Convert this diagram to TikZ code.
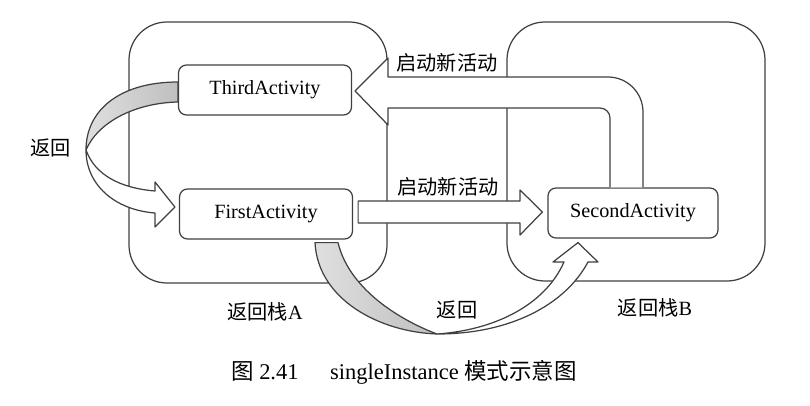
\documentclass[tikz,border=0pt]{standalone}
\usepackage{fontspec}
\setmainfont{Liberation Serif}
\newfontfamily\cjk{Noto Sans CJK SC}
\usetikzlibrary{calc}

\begin{document}
\begin{tikzpicture}
[
    x=0.2mm, y=-0.2mm,
    line width=0.7pt,
    stack/.style={draw=black!75, rounded corners=7.6mm},
    act/.style={draw=black!75, fill=white, rounded corners=1.6mm, minimum width=34.6mm, minimum height=10mm, inner sep=0pt, font=\fontsize{11.5}{13}\selectfont},
    lbl/.style={font=\fontsize{11.5}{13}\selectfont, inner sep=0pt},
    band/.style={draw=black!75, fill=white, line join=round},
    shade/.style={draw=black!75, line join=round, left color=gray!25, right color=gray!50},
]
\useasboundingbox (0,0) rectangle (810,406);

% the two back stacks
\draw[stack] (129,22) rectangle (387,283);
\draw[stack] (507,22) rectangle (765,281);

\node[act] (third) at (265,90) {ThirdActivity};
\node[act] (first) at (266,214) {FirstActivity};
\node[act, minimum width=34mm] (second) at (633,213) {SecondActivity};

% start a new activity: First -> Second
\draw[band] ($(first.east)+(5,-13)$) -- (520,201) -- (520,190)
    -- ($(second.west)+(-5,-1)$) -- (520,235) -- (520,223) -- ($(first.east)+(5,9)$) -- cycle;

% start a new activity: Second -> Third
\draw[band] ($(second.north)+(10,0)$) [rounded corners=7mm] -- (643,77) [sharp corners] -- (388,77) -- (388,58)
    -- ($(third.east)+(3,1)$) -- (388,125) -- (388,108) [rounded corners=2mm] -- (610,108) [sharp corners]
    -- ($(second.north)+(-23,0)$);

% back: Third -> First
\draw[shade] ($(third.west)+(0,-8)$) .. controls (120,82) and (86,110) .. (86,150)
    .. controls (98,122) and (135,103) .. ($(third.west)+(0,12)$) -- cycle;
\draw[band] (86,150) .. controls (95,175) and (120,188) .. (155,191) -- (155,182)
    -- ($(first.west)+(-4,-7)$) -- (155,227) -- (155,213) .. controls (115,210) and (86,185) .. (86,150) -- cycle;

% back: First -> Second
\draw[shade] ($(first.south)+(49,3)$) .. controls (318,300) and (380,332) .. (437,334)
    .. controls (405,322) and (350,292) .. ($(first.south)+(72,3)$) -- cycle;
\draw[band] (437,334) .. controls (510,334) and (565,305) .. (588,262) -- (598,262)
    -- ($(second.south)+(-55,4)$) -- (553,262) -- (564,262) .. controls (545,305) and (495,330) .. (437,334) -- cycle;

\node[lbl] (newtop) at (447,63) {\cjk 启动新活动};
\node[lbl] (newmid) at (448,187) {\cjk 启动新活动};
\node[lbl] (backleft) at (51,148) {\cjk 返回};
\node[lbl] (backbottom) at (457,310) {\cjk 返回};
\node[lbl] (stacka) at (265,312) {{\cjk 返回栈}A};
\node[lbl] (stackb) at (655,308) {{\cjk 返回栈}B};

\node[font=\fontsize{12.8}{14}\selectfont, inner sep=0pt] (caption) at (404,372)
    {{\cjk 图} 2.41\hspace{1.4em}singleInstance {\cjk 模式示意图}};
\end{tikzpicture}
\end{document}
